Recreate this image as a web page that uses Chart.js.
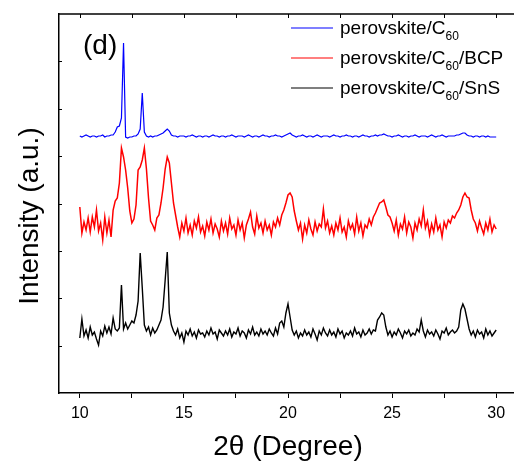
<!DOCTYPE html>
<html>
<head>
<meta charset="utf-8">
<script src="https://cdn.jsdelivr.net/npm/chart.js@4.4.1/dist/chart.umd.min.js"></script>
<style>
  html, body { margin: 0; padding: 0; background: #fff; overflow: hidden; }
  #wrap { width: 524px; height: 464px; }
</style>
</head>
<body>
<div id="wrap"><canvas id="xrd" width="524" height="464"></canvas></div>
<script>
// 2theta grid, 10..30 step 0.1
const twoTheta = [];
for (let i = 0; i <= 200; i++) twoTheta.push(Math.round((10 + i * 0.1) * 10) / 10);

const seriesNames = ["perovskite/C60", "perovskite/C60/BCP", "perovskite/C60/SnS"];

// intensities (a.u., stacked offsets included), one row per degree
const blueC60 = [
  257, 256, 257, 258, 257, 256, 257, 257, 256, 257,
  257, 258, 256, 257, 257, 258, 258, 261, 266, 267,
  275, 350, 256, 255, 256, 256, 257, 257, 259, 264,
  300, 261, 257, 256, 257, 256, 257, 257, 258, 259,
  260, 262, 264, 262, 258, 257, 257, 256, 257, 257,
  257, 256, 257, 257, 258, 257, 256, 257, 257, 256,
  257, 257, 256, 257, 258, 257, 257, 256, 257, 257,
  256, 257, 257, 258, 257, 256, 257, 257, 257, 256,
  257, 258, 257, 256, 257, 257, 256, 257, 258, 257,
  257, 256, 257, 257, 258, 257, 257, 256, 257, 258,
  259, 260, 258, 257, 256, 257, 257, 258, 257, 256,
  257, 257, 256, 257, 258, 257, 256, 257, 257, 257,
  256, 257, 258, 257, 257, 256, 257, 257, 258, 257,
  257, 256, 257, 257, 256, 257, 258, 257, 257, 256,
  257, 257, 258, 257, 258, 258, 259, 258, 257, 257,
  256, 257, 257, 258, 257, 256, 257, 257, 256, 257,
  257, 258, 257, 256, 257, 257, 257, 256, 257, 258,
  257, 256, 257, 257, 258, 257, 256, 257, 257, 257,
  257, 258, 258, 259, 260, 260, 258, 257, 257, 256,
  257, 257, 256, 257, 257, 256, 257, 256, 256, 256,
  256
];

const redBCP = [
  186, 160, 171, 163, 175, 161, 176, 166, 183, 162,
  170, 153, 176, 160, 173, 156, 183, 192, 195, 210,
  245, 236, 223, 205, 182, 170, 174, 188, 223, 226,
  233, 245, 224, 195, 172, 168, 163, 175, 178, 190,
  205, 224, 236, 230, 210, 190, 178, 166, 156, 170,
  162, 175, 160, 168, 158, 172, 165, 176, 161, 167,
  157, 171, 163, 174, 160, 169, 164, 156, 172, 162,
  170, 159, 175, 164, 168, 158, 173, 163, 170, 155,
  168, 174, 181, 166, 159, 177, 165, 170, 160, 172,
  163, 168, 158, 171, 166, 175, 168, 178, 183, 190,
  198, 200, 196, 182, 172, 163, 170, 154, 168, 160,
  173, 164, 158, 171, 162, 169, 166, 184, 165, 172,
  160, 167, 158, 170, 163, 175, 161, 166, 156, 172,
  164, 169, 159, 176, 162, 170, 157, 168, 165, 174,
  168, 176, 180, 185, 190, 191, 193, 186, 178, 176,
  170, 162, 173, 158, 169, 164, 176, 160, 171, 166,
  155, 170, 163, 174, 167, 183, 165, 172, 158, 169,
  161, 175, 163, 168, 156, 171, 165, 173, 170, 177,
  175, 180, 183, 188, 196, 200, 196, 195, 183, 174,
  170, 162, 172, 165, 159, 170, 163, 174, 161, 168,
  164
];

const blackSnS = [
  55, 74, 57, 63, 55, 66, 58, 61, 54, 48,
  62, 57, 67, 60, 66, 59, 75, 64, 62, 65,
  108, 64, 70, 64, 68, 72, 70, 78, 92, 140,
  105, 68, 62, 66, 58, 65, 60, 63, 68, 73,
  86, 113, 141, 80, 68, 62, 58, 64, 55, 60,
  51, 62, 58, 64, 57, 61, 55, 63, 59, 60,
  56, 62, 58, 65, 59, 61, 54, 63, 60, 57,
  62, 58, 64, 56, 61, 59, 65, 57, 62, 60,
  55, 63, 59, 66, 58, 61, 57, 64, 59, 62,
  58, 64, 60, 57, 65, 59, 70, 72, 66, 80,
  89, 76, 63, 58, 62, 55, 60, 57, 63, 58,
  61, 56, 64, 59, 53, 62, 58, 65, 60, 57,
  63, 58, 61, 56, 64, 59, 62, 55, 60, 58,
  62, 57, 65, 59, 61, 56, 63, 58, 60, 64,
  59, 63, 62, 73, 76, 80, 78, 66, 58, 62,
  56, 61, 58, 64, 60, 55, 62, 59, 63, 57,
  60, 58, 64, 61, 73, 62, 56, 63, 59, 61,
  57, 63, 59, 54, 62, 60, 65, 58, 61, 63,
  60, 62, 66, 83, 89, 84, 74, 64, 58, 62,
  56, 63, 59, 61, 55, 64, 58, 62, 57, 60,
  63
];

const seriesColors = ["#0000ff", "#ff0000", "#000000"];
const seriesWidths = [1.2, 1.5, 1.4];
const xTicks = [10, 12.5, 15, 17.5, 20, 22.5, 25, 27.5, 30];
const yTicks = [0, 47.375, 94.75, 142.125, 189.5, 236.875, 284.25, 331.625, 379];

const FONT = "'Liberation Sans', Arial, sans-serif";

function toPoints(arr) {
  return twoTheta.map((t, i) => ({ x: t, y: arr[i] }));
}

// top border, inward ticks, legend, panel label, y title
const decorations = {
  id: "decorations",
  afterDraw(chart) {
    const ctx = chart.ctx;
    const a = chart.chartArea;
    const xs = chart.scales.x;
    const ys = chart.scales.y;
    ctx.save();
    ctx.strokeStyle = "#000";
    ctx.lineWidth = 1.5;
    ctx.beginPath();
    ctx.moveTo(a.left - 0.75, a.top);
    ctx.lineTo(a.right, a.top);
    ctx.stroke();

    ctx.lineWidth = 1;
    ctx.beginPath();
    xTicks.forEach(v => {
      const px = Math.round(xs.getPixelForValue(v)) + 0.5;
      ctx.moveTo(px, a.top);
      ctx.lineTo(px, a.top + 4);
    });
    yTicks.slice(1, -1).forEach(v => {
      const py = Math.round(ys.getPixelForValue(v)) + 0.5;
      ctx.moveTo(a.left, py);
      ctx.lineTo(a.left + 3, py);
    });
    ctx.stroke();

    // legend
    const parts = [["perovskite/C", "60", ""], ["perovskite/C", "60", "/BCP"], ["perovskite/C", "60", "/SnS"]];
    parts.forEach((p, i) => {
      const ly = 28 + i * 30;
      ctx.strokeStyle = seriesColors[i];
      ctx.lineWidth = 1.2;
      ctx.beginPath();
      ctx.moveTo(291, ly);
      ctx.lineTo(333, ly);
      ctx.stroke();
      ctx.fillStyle = "#000";
      ctx.textBaseline = "middle";
      ctx.textAlign = "left";
      let tx = 340;
      ctx.font = "19px " + FONT;
      ctx.fillText(p[0], tx, ly + 1);
      tx += ctx.measureText(p[0]).width;
      ctx.font = "12px " + FONT;
      ctx.fillText(p[1], tx, ly + 9);
      tx += ctx.measureText(p[1]).width;
      if (p[2]) {
        ctx.font = "19px " + FONT;
        ctx.fillText(p[2], tx, ly + 1);
      }
    });

    // panel label
    ctx.font = "28px " + FONT;
    ctx.fillStyle = "#000";
    ctx.textBaseline = "middle";
    ctx.fillText("(d)", 83, 46);

    // y axis title
    ctx.translate(30, 216);
    ctx.rotate(-Math.PI / 2);
    ctx.textAlign = "center";
    ctx.fillText("Intensity (a.u.)", 0, 0);
    ctx.restore();
  }
};

const ctx = document.getElementById("xrd").getContext("2d");
const xrdChart = new Chart(ctx, {
  type: "line",
  data: {
    datasets: [blueC60, redBCP, blackSnS].map((arr, i) => ({
      label: seriesNames[i],
      data: toPoints(arr),
      borderColor: seriesColors[i],
      borderWidth: seriesWidths[i],
      pointRadius: 0,
      tension: 0,
      fill: false,
    })),
  },
  options: {
    responsive: false,
    animation: false,
    layout: { padding: { left: 0, right: 7, top: 14, bottom: 0 } },
    plugins: {
      legend: { display: false },
      tooltip: { enabled: false },
    },
    scales: {
      x: {
        type: "linear",
        min: 9,
        max: 31,
        afterBuildTicks: s => { s.ticks = xTicks.map(v => ({ value: v })); },
        afterFit: s => { s.height = 71; },
        grid: { display: true, drawOnChartArea: false, drawTicks: true, tickLength: 5, color: "#000", lineWidth: 1 },
        border: { display: true, color: "#000", width: 1.5 },
        ticks: {
          autoSkip: false,
          maxRotation: 0,
          padding: 6,
          color: "#000",
          font: { family: FONT, size: 16 },
          callback: v => (v % 5 === 0 ? String(v) : ""),
        },
        title: {
          display: true,
          text: "2θ (Degree)",
          color: "#000",
          font: { family: FONT, size: 28 },
          padding: { top: 0, bottom: 0 },
        },
      },
      y: {
        min: 0,
        max: 379,
        afterBuildTicks: s => { s.ticks = yTicks.map(v => ({ value: v })); },
        afterFit: s => { s.width = 59; },
        grid: { display: false },
        border: { display: true, color: "#000", width: 1.5 },
        ticks: { display: false },
      },
    },
  },
  plugins: [decorations],
});
</script>
</body>
</html>
